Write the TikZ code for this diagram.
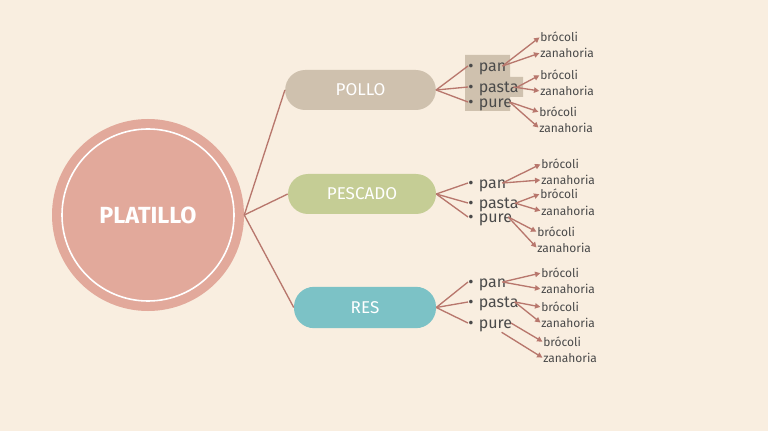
\documentclass[tikz,border=0pt]{standalone}
\usepackage{fontspec}
\setmainfont{Fira Sans}
\usepackage{xcolor}
\usetikzlibrary{arrows.meta}
\definecolor{bgcream}{HTML}{F9EEE0}
\definecolor{platred}{HTML}{E2A99B}
\definecolor{pollotan}{HTML}{CFC1AE}
\definecolor{pescgreen}{HTML}{C5CD95}
\definecolor{resteal}{HTML}{7CC2C6}
\definecolor{linkred}{HTML}{B8776D}
\definecolor{inkgray}{HTML}{4A4A4A}

\begin{document}
\begin{tikzpicture}[x=0.75pt,y=-0.75pt,
  branch/.style={draw=linkred, line width=1pt},
  tip/.style={-{Triangle[length=4pt,width=4pt]}, draw=linkred, fill=linkred, line width=1pt, shorten >=0.5pt},
  dish/.style={rounded corners=15pt, minimum height=30pt, text=white, font=\fontsize{12.8}{15}\selectfont},
  item/.style={anchor=west, inner sep=0pt, text height=11pt, text depth=2.5pt, text=inkgray, font=\fontsize{12}{14}\selectfont},
  side/.style={anchor=west, inner sep=0pt, text height=9pt, text depth=2pt, text=inkgray, font=\fontsize{9}{11}\selectfont}]
  % background
  \fill[bgcream] (0,0) rectangle (768,431);
  \useasboundingbox (0,0) rectangle (768,431);

  % centre
  \node[circle, fill=platred, minimum size=144pt, inner sep=0pt, text=white, font=\bfseries\fontsize{17.5}{20}\selectfont] (plat) at (148,215) {PLATILLO};
  \draw[white, line width=1.2pt] (plat.center) circle[radius=64.5pt];

  % dishes
  \node[dish, fill=pollotan, minimum width=113pt] (pollo) at (360.5,90) {POLLO};
  \node[dish, fill=pescgreen, minimum width=111pt] (pescado) at (362,194) {PESCADO};
  \node[dish, fill=resteal, minimum width=106.5pt, minimum height=31pt] (res) at (365,307.5) {RES};
  \draw[branch] (plat.east) -- (pollo.west);
  \draw[branch] (plat.east) -- (pescado.west);
  \draw[branch] (plat.east) -- (res.west);

  % pollo
  \fill[pollotan] (465,55) -- (510,55) -- (510,77) -- (523,77) -- (523,97) -- (510,97) -- (510,111) -- (465,111) -- cycle;
  \node[item] (pan1) at (468,66) {•\hspace{4pt}pan};
  \node[item] (pasta1) at (468,87) {•\hspace{4pt}pasta};
  \node[item] (pure1) at (468,102) {•\hspace{4pt}pure};
  \node[side] (bro1a) at (540,37) {brócoli};
  \node[side] (zan1a) at (540,53) {zanahoria};
  \node[side] (bro1b) at (540,75) {brócoli};
  \node[side] (zan1b) at (540,91) {zanahoria};
  \node[side] (bro1c) at (539,112) {brócoli};
  \node[side] (zan1c) at (539,128) {zanahoria};
  \draw[branch] (pollo.east) -- (pan1.west);
  \draw[branch] (pollo.east) -- (pasta1.west);
  \draw[branch] (pollo.east) -- (pure1.west);
  \draw[tip] ([xshift=-3pt]pan1.east) -- (bro1a.west);
  \draw[tip] ([xshift=-3pt]pan1.east) -- (zan1a.west);
  \draw[tip] ([xshift=-1pt]pasta1.east) -- (bro1b.west);
  \draw[tip] ([xshift=-4pt]pasta1.east) -- (zan1b.west);
  \draw[tip] ([xshift=-2pt]pure1.east) -- (bro1c.west);
  \draw[tip] ([xshift=-2pt]pure1.east) -- (zan1c.west);

  % pescado
  \node[item] (pan2) at (468,183) {•\hspace{4pt}pan};
  \node[item] (pasta2) at (468,203) {•\hspace{4pt}pasta};
  \node[item] (pure2) at (468,217) {•\hspace{4pt}pure};
  \node[side] (bro2a) at (541,164) {brócoli};
  \node[side] (zan2a) at (541,180) {zanahoria};
  \node[side] (bro2b) at (540,194) {brócoli};
  \node[side] (zan2b) at (541,211) {zanahoria};
  \node[side] (bro2c) at (537,232) {brócoli};
  \node[side] (zan2c) at (537,248) {zanahoria};
  \draw[branch] (pescado.east) -- (pan2.west);
  \draw[branch] (pescado.east) -- (pasta2.west);
  \draw[branch] (pescado.east) -- (pure2.west);
  \draw[tip] ([xshift=-3pt]pan2.east) -- (bro2a.west);
  \draw[tip] ([xshift=-3pt]pan2.east) -- (zan2a.west);
  \draw[tip] ([xshift=-2pt]pasta2.east) -- (bro2b.west);
  \draw[tip] ([xshift=-3pt]pasta2.east) -- (zan2b.west);
  \draw[tip] ([xshift=-3pt]pure2.east) -- (bro2c.west);
  \draw[tip] ([xshift=-3pt]pure2.east) -- (zan2c.west);

  % res
  \node[item] (pan3) at (468,282) {•\hspace{4pt}pan};
  \node[item] (pasta3) at (468,302) {•\hspace{4pt}pasta};
  \node[item] (pure3) at (468,323) {•\hspace{4pt}pure};
  \node[side] (bro3a) at (541,273) {brócoli};
  \node[side] (zan3a) at (541,289) {zanahoria};
  \node[side] (bro3b) at (541,307) {brócoli};
  \node[side] (zan3b) at (541,323) {zanahoria};
  \node[side] (bro3c) at (543,342) {brócoli};
  \node[side] (zan3c) at (543,358) {zanahoria};
  \draw[branch] (res.east) -- (pan3.west);
  \draw[branch] (res.east) -- (pasta3.west);
  \draw[branch] (res.east) -- (pure3.west);
  \draw[tip] ([xshift=-3pt]pan3.east) -- (bro3a.west);
  \draw[tip] ([xshift=-3pt]pan3.east) -- (zan3a.west);
  \draw[tip] ([xshift=-3pt]pasta3.east) -- (bro3b.west);
  \draw[tip] ([xshift=-3pt]pasta3.east) -- (zan3b.west);
  \draw[tip] ([xshift=-1pt]pure3.east) -- (bro3c.west);
  \draw[tip] ([xshift=-8pt]pure3.south east) -- (zan3c.west);
\end{tikzpicture}
\end{document}
